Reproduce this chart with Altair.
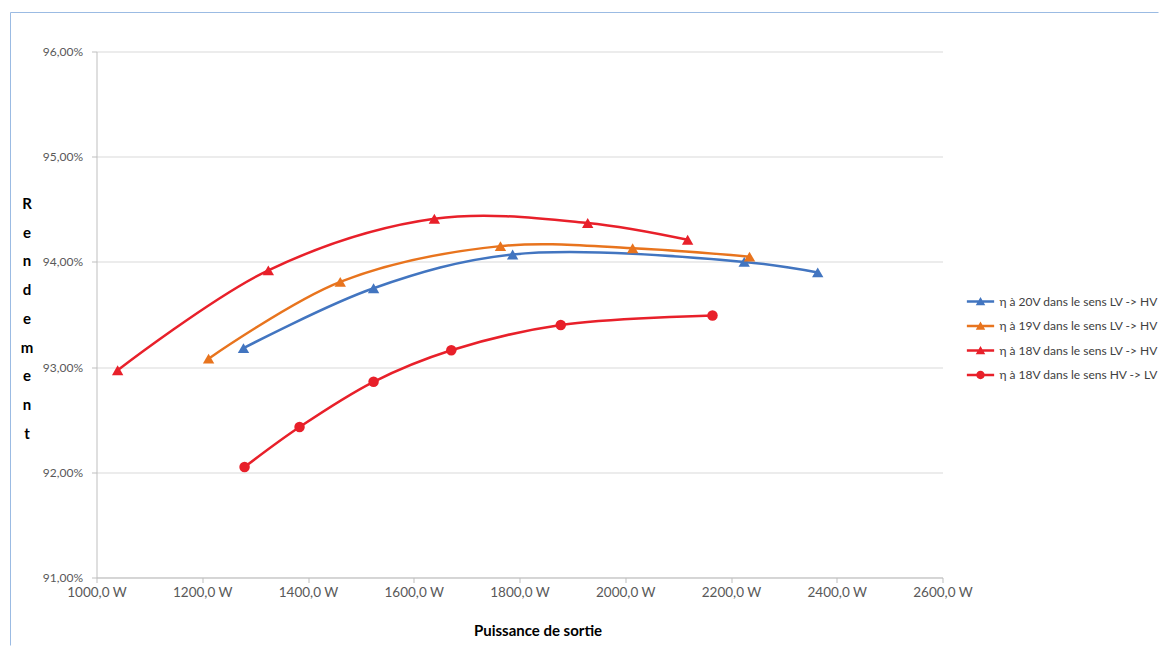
import altair as alt
import pandas as pd

series_names = [
    "η à 20V dans le sens LV -> HV",
    "η à 19V dans le sens LV -> HV",
    "η à 18V dans le sens LV -> HV",
    "η à 18V dans le sens HV -> LV",
]
colors = ["#4275C0", "#E8741E", "#E8202A", "#E8202A"]

p20 = [1278, 1524, 1787, 2225, 2364]
e20 = [93.18, 93.75, 94.07, 94.00, 93.90]

p19 = [1212, 1461, 1764, 2014, 2235]
e19 = [93.08, 93.81, 94.15, 94.13, 94.05]

p18 = [1040, 1325, 1639, 1929, 2118]
e18 = [92.97, 93.92, 94.41, 94.37, 94.21]

p18r = [1280, 1384, 1524, 1671, 1878, 2165]
e18r = [92.05, 92.43, 92.86, 93.16, 93.40, 93.49]

x_ticks = [1000, 1200, 1400, 1600, 1800, 2000, 2200, 2400, 2600]
y_ticks = [91, 92, 93, 94, 95, 96]

rows = []
for name, ps, es, mk in [
    (series_names[0], p20, e20, "triangle"),
    (series_names[1], p19, e19, "triangle"),
    (series_names[2], p18, e18, "triangle"),
    (series_names[3], p18r, e18r, "circle"),
]:
    for i, (p, e) in enumerate(zip(ps, es)):
        rows.append({"serie": name, "P": p, "eta": e, "ordre": i, "marqueur": mk})
df = pd.DataFrame(rows)

tri_path = "M-2.6,-0.24L2.6,-0.24L2.6,0.24L-2.6,0.24Z M0,-0.85L0.9,0.7L-0.9,0.7Z"
circ_path = "M-2.6,-0.24L2.6,-0.24L2.6,0.24L-2.6,0.24Z M-0.8,0A0.8,0.8 0 1,1 0.8,0A0.8,0.8 0 1,1 -0.8,0Z"

x_enc = alt.X(
    "P:Q",
    scale=alt.Scale(domain=[1000, 2600], nice=False),
    axis=alt.Axis(
        values=x_ticks,
        labelExpr="replace(format(datum.value, '.1f'), '.', ',') + ' W'",
        title="Puissance de sortie",
        grid=False,
        labelFlush=False,
        labelOverlap=False,
        labelFontSize=13.5,
        labelPadding=3,
        titleFontSize=15,
        titleFontWeight="bold",
        titleColor="#000000",
        titlePadding=24,
        titleX=441,
    ),
)
y_enc = alt.Y(
    "eta:Q",
    scale=alt.Scale(domain=[91, 96], nice=False, zero=False),
    axis=alt.Axis(
        values=y_ticks,
        labelExpr="replace(format(datum.value, '.2f'), '.', ',') + '%'",
        title=["R", "e", "n", "d", "e", "m", "e", "n", "t"],
        titleAngle=0,
        titleAlign="center",
        titleBaseline="middle",
        titleX=-70,
        titleY=152,
        titleLineHeight=28.7,
        titleFontSize=15,
        titleFontWeight="bold",
        titleColor="#000000",
        labelFlush=False,
        labelFontSize=12,
        labelPadding=9,
        grid=True,
    ),
)
color_scale = alt.Scale(domain=series_names, range=colors)

leg = dict(
    title=None,
    orient="none",
    legendX=878,
    legendY=244,
    symbolSize=110,
    labelOffset=13,
    rowPadding=12.5,
    padding=0,
    labelFontSize=12,
    labelColor="#404040",
    labelLimit=300,
    symbolStrokeWidth=0,
    symbolOpacity=1,
)

legend_layer = alt.Chart(df).mark_point(filled=True, size=0, opacity=1).encode(
    x=x_enc,
    y=y_enc,
    color=alt.Color("serie:N", scale=color_scale, legend=alt.Legend(**leg)),
    shape=alt.Shape(
        "serie:N",
        scale=alt.Scale(domain=series_names, range=[tri_path, tri_path, tri_path, circ_path]),
        legend=alt.Legend(**leg),
    ),
)

lines = alt.Chart(df).mark_line(interpolate="catmull-rom", strokeWidth=2.5).encode(
    x="P:Q",
    y="eta:Q",
    color=alt.Color("serie:N", scale=color_scale),
    detail="serie:N",
    order="ordre:Q",
)

tris = alt.Chart(df).transform_filter(alt.datum.marqueur == "triangle").mark_point(
    shape="triangle-up", filled=True, size=130, opacity=1
).encode(
    x="P:Q",
    y="eta:Q",
    color=alt.Color("serie:N", scale=color_scale),
)

circs = alt.Chart(df).transform_filter(alt.datum.marqueur == "circle").mark_point(
    shape="circle", filled=True, size=110, opacity=1
).encode(
    x="P:Q",
    y="eta:Q",
    color=alt.Color("serie:N", scale=color_scale),
)

# light blue chart-area border (left and top edges)
frame_src = pd.DataFrame({"k": [0]})
border_left = alt.Chart(frame_src).mark_rule(color="#9BBBE3", strokeWidth=1).encode(
    x=alt.value(-86), y=alt.value(-39), y2=alt.value(594)
)
border_top = alt.Chart(frame_src).mark_rule(color="#9BBBE3", strokeWidth=1).encode(
    x=alt.value(-86), x2=alt.value(1062), y=alt.value(-39)
)

chart = (
    alt.layer(legend_layer, lines, tris, circs, border_left, border_top)
    .properties(width=846, height=526, padding={"left": 1.5, "top": 3.5, "right": 0, "bottom": 5})
    .configure(font="Lato")
    .configure_view(stroke=None)
    .configure_axis(
        labelFont="Lato",
        titleFont="Lato",
        labelColor="#595959",
        gridColor="#d9d9d9",
        gridWidth=1,
        domainColor="#bfbfbf",
        tickColor="#bfbfbf",
        tickSize=5,
    )
    .configure_legend(labelFont="Lato")
)

chart.save("out.html", embed_options={"renderer": "svg", "actions": False})
